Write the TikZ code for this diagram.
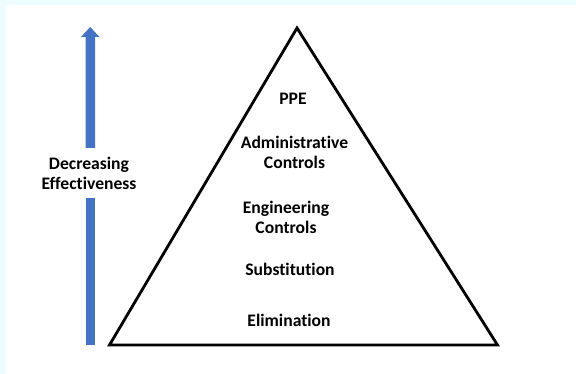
\documentclass[tikz,border=0pt]{standalone}
\usepackage{fontspec}
\setmainfont[Ligatures=NoCommon]{Carlito}
\definecolor{bandcyan}{RGB}{236,252,255}
\definecolor{offblue}{RGB}{68,114,196}
\begin{document}
\begin{tikzpicture}[x=1pt,y=-1pt,
  lbl/.style={font=\bfseries\fontsize{17.6}{20}\selectfont, align=center, inner sep=0pt}]
\useasboundingbox (0,0) rectangle (576,374);
\fill[bandcyan] (0,0) rectangle (576,374);
\fill[white] (6,5) rectangle (576,374);
% arrow
\coordinate (abot) at (90.2,345);
\coordinate (agap1) at (90.2,198);
\coordinate (agap2) at (90.2,148);
\coordinate (atip) at (90.2,27);
\fill[offblue] (85.5,345) -- (85.5,198) -- (95,198) -- (95,345) -- cycle;
\fill[offblue] (85.5,148) -- (85.5,37) -- (81,37) -- (90.2,27) -- (99.5,37) -- (95,37) -- (95,148) -- cycle;
\node[lbl] (dec) at (89,173.5) {Decreasing\\Effectiveness};
% triangle
\coordinate (apex) at (297,28);
\coordinate (bl) at (109.5,345);
\coordinate (br) at (497.5,345);
\draw[line width=2.8pt, line join=miter] (apex) -- (br) -- (bl) -- cycle;
\node[lbl] (ppe) at (293,99) {PPE};
\node[lbl] (adm) at (294.5,152) {Administrative\\Controls};
\node[lbl] (eng) at (286,217) {Engineering\\Controls};
\node[lbl] (sub) at (290,269) {Substitution};
\node[lbl] (eli) at (289,320) {Elimination};
\end{tikzpicture}
\end{document}
